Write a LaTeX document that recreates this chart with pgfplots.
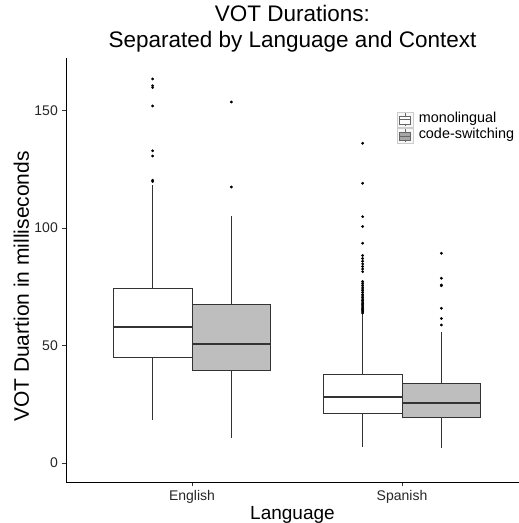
\documentclass[border=0pt]{standalone}
\usepackage{fontspec}
\setmainfont{Liberation Sans}
\usepackage{pgfplots}
\pgfplotsset{compat=1.18}
\definecolor{boxline}{HTML}{333333}
\definecolor{csfill}{HTML}{BEBEBE}
\pgfplotsset{
  whisk/.style={draw=boxline, line width=0.7pt, forget plot},
  boxr/.style={draw=boxline, line width=0.9pt, forget plot},
  med/.style={draw=boxline, line width=1.8pt, forget plot},
  outl/.style={only marks, mark=*, mark size=1.2pt, mark options={black, fill=black, draw=none}, forget plot},
}
\begin{document}
\begin{tikzpicture}
\begin{axis}[
  scale only axis, width=453pt, height=424pt,
  xmin=0.4, xmax=2.557, ymin=-8.1, ymax=172.3,
  axis x line*=bottom, axis y line*=left,
  axis line style={black, line width=0.8pt},
  xtick={1,2}, xticklabels={English,Spanish},
  ytick={0,50,100,150},
  tick align=outside,
  major tick length=4pt,
  tick style={boxline, line width=0.7pt},
  /pgf/number format/assume math mode=true,
  ticklabel style={font=\fontsize{14}{16}\selectfont, text=black!85, inner sep=0pt},
  yticklabel style={xshift=-4pt},
  xticklabel style={yshift=-4.5pt},
  title={VOT Durations:\\Separated by Language and Context},
  title style={at={(axis description cs:0.5,1)}, anchor=south, align=center, inner sep=0pt,
    font=\fontsize{22.5}{26}\selectfont, yshift=-0.7pt},
  xlabel={Language}, ylabel={VOT Duartion in milliseconds},
  xlabel style={at={(axis description cs:0.5,0)}, anchor=base, yshift=-37pt, inner sep=0pt,
    font=\fontsize{19}{22}\selectfont},
  ylabel style={at={(axis description cs:-0.0818,0.461)}, anchor=base, inner sep=0pt,
    font=\fontsize{21}{24}\selectfont},
  legend style={at={(rel axis cs:0.730,0.873)}, anchor=north west, draw=none, fill=none,
    inner sep=0pt, outer sep=0pt, row sep=0pt, column sep=5.5pt,
    font=\fontsize{14.4}{16}\selectfont,
    nodes={inner sep=0pt, text height=10.5pt, text depth=5pt}},
  legend cell align=left,
]
% ---- English monolingual (center 0.8125)
\addplot[whisk] coordinates {(0.8125,18.3) (0.8125,44.7)};
\addplot[whisk] coordinates {(0.8125,74.2) (0.8125,118.3)};
\addplot[boxr, fill=white] coordinates {(0.625,44.7) (1.0,44.7) (1.0,74.2) (0.625,74.2) (0.625,44.7)};
\addplot[med] coordinates {(0.625,57.9) (1.0,57.9)};
\addplot[outl] coordinates {(0.8125,119.7) (0.8125,120.3) (0.8125,130.6) (0.8125,132.8) (0.8125,151.9) (0.8125,159.7) (0.8125,160.5) (0.8125,163.4)};
% ---- English code-switching (center 1.1875)
\addplot[whisk] coordinates {(1.1875,10.5) (1.1875,39.3)};
\addplot[whisk] coordinates {(1.1875,67.5) (1.1875,105.1)};
\addplot[boxr, fill=csfill] coordinates {(1.0,39.3) (1.375,39.3) (1.375,67.5) (1.0,67.5) (1.0,39.3)};
\addplot[med] coordinates {(1.0,50.5) (1.375,50.5)};
\addplot[outl] coordinates {(1.1875,117.4) (1.1875,153.6)};
% ---- Spanish monolingual (center 1.8125)
\addplot[whisk] coordinates {(1.8125,6.9) (1.8125,21.1)};
\addplot[whisk] coordinates {(1.8125,37.7) (1.8125,63.3)};
\addplot[boxr, fill=white] coordinates {(1.625,21.1) (2.0,21.1) (2.0,37.7) (1.625,37.7) (1.625,21.1)};
\addplot[med] coordinates {(1.625,27.9) (2.0,27.9)};
\addplot[outl] coordinates {(1.8125,63.8) (1.8125,64.3) (1.8125,64.8) (1.8125,65.3) (1.8125,65.8) (1.8125,66.3) (1.8125,66.8) (1.8125,67.3) (1.8125,67.9) (1.8125,68.5) (1.8125,69.1) (1.8125,69.7) (1.8125,70.3) (1.8125,71.0) (1.8125,71.7) (1.8125,72.5) (1.8125,73.3) (1.8125,74.0) (1.8125,74.8) (1.8125,75.6) (1.8125,76.5) (1.8125,77.2) (1.8125,81.4) (1.8125,82.5) (1.8125,83.6) (1.8125,84.7) (1.8125,85.8) (1.8125,87.0) (1.8125,88.3) (1.8125,93.5) (1.8125,100.6) (1.8125,104.8) (1.8125,119.0) (1.8125,136.0)};
% ---- Spanish code-switching (center 2.1875)
\addplot[whisk] coordinates {(2.1875,6.2) (2.1875,19.4)};
\addplot[whisk] coordinates {(2.1875,33.9) (2.1875,55.9)};
\addplot[boxr, fill=csfill] coordinates {(2.0,19.4) (2.375,19.4) (2.375,33.9) (2.0,33.9) (2.0,19.4)};
\addplot[med] coordinates {(2.0,25.5) (2.375,25.5)};
\addplot[outl] coordinates {(2.1875,58.7) (2.1875,61.5) (2.1875,65.8) (2.1875,75.4) (2.1875,75.7) (2.1875,78.6) (2.1875,89.2)};
% ---- legend
\addlegendimage{legend image code/.code={
  \draw[draw=gray!40, fill=gray!6, line width=0.6pt] (0pt,-7.75pt) rectangle (16pt,7.75pt);
  \draw[gray!80!black, line width=0.6pt] (8pt,-6.5pt) -- (8pt,6.5pt);
  \draw[gray!80!black, fill=white, line width=0.6pt] (2.5pt,-4pt) rectangle (13.5pt,4pt);
  \draw[gray!80!black, line width=0.9pt] (2.5pt,0pt) -- (13.5pt,0pt);
}}
\addlegendentry{monolingual}
\addlegendimage{legend image code/.code={
  \draw[draw=gray!40, fill=gray!6, line width=0.6pt] (0pt,-7.75pt) rectangle (16pt,7.75pt);
  \draw[gray!80!black, line width=0.6pt] (8pt,-6.5pt) -- (8pt,6.5pt);
  \draw[gray!80!black, fill=gray!70, line width=0.6pt] (2.5pt,-4pt) rectangle (13.5pt,4pt);
  \draw[gray!80!black, line width=0.9pt] (2.5pt,0pt) -- (13.5pt,0pt);
}}
\addlegendentry{code-switching}
\end{axis}
\pgfresetboundingbox
\path[use as bounding box] (-66pt,-41pt) rectangle (453pt,482pt);
\end{tikzpicture}
\end{document}
